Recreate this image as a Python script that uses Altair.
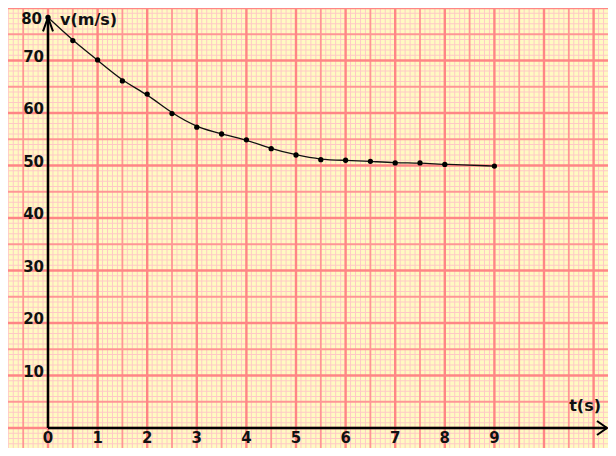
import altair as alt
import numpy as np
import pandas as pd

# ---- data ----
t_vals = [0, 0.5, 1, 1.5, 2, 2.5, 3, 3.5, 4, 4.5, 5, 5.5, 6, 6.5, 7, 7.5, 8, 9]
v_vals = [78.2, 73.8, 70.1, 66.1, 63.6, 59.9, 57.3, 56.0, 54.9, 53.2, 52.0,
          51.1, 51.0, 50.8, 50.5, 50.5, 50.2, 49.9]
x_tick_labels = [0, 1, 2, 3, 4, 5, 6, 7, 8, 9]
y_tick_labels = [10, 20, 30, 40, 50, 60, 70]
y_top_label = 80
x_title = "t(s)"
y_title = "v(m/s)"

# ---- geometry of the graph paper / axes ----
W, H = 600, 440
PX_T, PX_V = 49.6, 5.25          # pixels per unit
X_MIN = -40 / PX_T
X_MAX = X_MIN + W / PX_T
Y_MAX = 420 / PX_V
Y_MIN = Y_MAX - H / PX_V
x_axis_end = 11.27
y_axis_top = v_vals[0]

xs = alt.Scale(domain=[X_MIN, X_MAX], nice=False, zero=False)
ys = alt.Scale(domain=[Y_MIN, Y_MAX], nice=False, zero=False)
FONT = "DejaVu Sans"

PAPER = "#FFFAC2"
MINOR = "#FFC8C6"
MID = "#FF9696"
MAJOR = "#FF8686"

# grid line positions (graph paper)
gx = np.round(np.arange(-0.8, 11.3, 0.1), 2)
gy = np.arange(-3, 81, 1)
minor_x = pd.DataFrame({"x": [v for v in gx if abs(v * 2 - round(v * 2)) > 1e-6]})
half_x = pd.DataFrame({"x": [v for v in gx if abs(v * 2 - round(v * 2)) < 1e-6 and abs(v - round(v)) > 1e-6]})
int_x = pd.DataFrame({"x": [v for v in gx if abs(v - round(v)) < 1e-6]})
minor_y = pd.DataFrame({"y": [v for v in gy if v % 5 != 0]})
half_y = pd.DataFrame({"y": [v for v in gy if v % 5 == 0 and v % 10 != 0]})
int_y = pd.DataFrame({"y": [v for v in gy if v % 10 == 0]})


def vrules(df, color, w):
    return alt.Chart(df).mark_rule(color=color, strokeWidth=w).encode(
        x=alt.X("x:Q", scale=xs, axis=None))


def hrules(df, color, w):
    return alt.Chart(df).mark_rule(color=color, strokeWidth=w).encode(
        y=alt.Y("y:Q", scale=ys, axis=None))


grid = alt.layer(
    vrules(minor_x, MINOR, 1), hrules(minor_y, MINOR, 1),
    vrules(half_x, MID, 1.8), hrules(half_y, MID, 1.8),
    vrules(int_x, MAJOR, 2.4), hrules(int_y, MAJOR, 2.4),
)

data = pd.DataFrame({"t": t_vals, "v": v_vals})
curve = alt.Chart(data).mark_line(color="#111111", strokeWidth=1.3, interpolate="basis").encode(
    x=alt.X("t:Q", scale=xs, axis=None), y=alt.Y("v:Q", scale=ys, axis=None))
dots = alt.Chart(data).mark_circle(color="#000000", size=28, opacity=1).encode(
    x=alt.X("t:Q", scale=xs, axis=None), y=alt.Y("v:Q", scale=ys, axis=None))

x_axis = alt.Chart(pd.DataFrame({"x0": [0], "x1": [x_axis_end], "y0": [0]})).mark_rule(
    color="#000000", strokeWidth=2.5).encode(
    x=alt.X("x0:Q", scale=xs, axis=None), x2="x1:Q", y=alt.Y("y0:Q", scale=ys, axis=None))
y_axis = alt.Chart(pd.DataFrame({"x0": [0], "y0": [0], "y1": [y_axis_top]})).mark_rule(
    color="#000000", strokeWidth=2.5).encode(
    x=alt.X("x0:Q", scale=xs, axis=None), y=alt.Y("y0:Q", scale=ys, axis=None), y2="y1:Q")

up_arrow = alt.Chart(pd.DataFrame({"x": [0], "y": [y_axis_top]})).mark_point(
    shape="M-0.5,1.4 L0,0 L0.5,1.4", filled=False, stroke="#000000", strokeWidth=2, size=400, opacity=1).encode(
    x=alt.X("x:Q", scale=xs, axis=None), y=alt.Y("y:Q", scale=ys, axis=None))
right_arrow = alt.Chart(pd.DataFrame({"x": [x_axis_end], "y": [0]})).mark_point(
    shape="M-1.0,-0.7 L0,0 L-1.0,0.7", filled=False, stroke="#000000", strokeWidth=2, size=400, opacity=1).encode(
    x=alt.X("x:Q", scale=xs, axis=None), y=alt.Y("y:Q", scale=ys, axis=None))

xlab = alt.Chart(pd.DataFrame({"x": x_tick_labels, "y": [0] * len(x_tick_labels)})).mark_text(
    font=FONT, fontSize=15, fontWeight="bold", color="#111111", baseline="alphabetic", dy=15).encode(
    x=alt.X("x:Q", scale=xs, axis=None), y=alt.Y("y:Q", scale=ys, axis=None), text="x:Q")
ylab = alt.Chart(pd.DataFrame({"x": [0] * len(y_tick_labels), "y": y_tick_labels})).mark_text(
    font=FONT, fontSize=15, fontWeight="bold", color="#111111", align="right", baseline="alphabetic",
    dx=-4, dy=1).encode(
    x=alt.X("x:Q", scale=xs, axis=None), y=alt.Y("y:Q", scale=ys, axis=None), text="y:Q")
ytop = alt.Chart(pd.DataFrame({"x": [0], "y": [y_axis_top], "lab": [str(y_top_label)]})).mark_text(
    font=FONT, fontSize=15, fontWeight="bold", color="#111111", align="right", baseline="alphabetic",
    dx=-6, dy=7).encode(
    x=alt.X("x:Q", scale=xs, axis=None), y=alt.Y("y:Q", scale=ys, axis=None), text="lab:N")

ytitle = alt.Chart(pd.DataFrame({"x": [0], "y": [y_axis_top], "lab": [y_title]})).mark_text(
    font=FONT, fontSize=16, fontWeight="bold", color="#111111", align="left", baseline="middle",
    dx=12, dy=3).encode(
    x=alt.X("x:Q", scale=xs, axis=None), y=alt.Y("y:Q", scale=ys, axis=None), text="lab:N")
xtitle = alt.Chart(pd.DataFrame({"x": [x_axis_end], "y": [0], "lab": [x_title]})).mark_text(
    font=FONT, fontSize=16, fontWeight="bold", color="#111111", align="right", baseline="alphabetic",
    dx=-6, dy=-17).encode(
    x=alt.X("x:Q", scale=xs, axis=None), y=alt.Y("y:Q", scale=ys, axis=None), text="lab:N")

chart = alt.layer(
    grid, curve, dots, x_axis, y_axis, up_arrow, right_arrow, xlab, ylab, ytop, ytitle, xtitle
).properties(
    width=W, height=H, padding=0, autosize=alt.AutoSizeParams(type="none"),
    background="#FFFFFF",
).configure_view(fill=PAPER, stroke=None)

chart.save("out.html", embed_options={"renderer": "svg", "actions": False})
